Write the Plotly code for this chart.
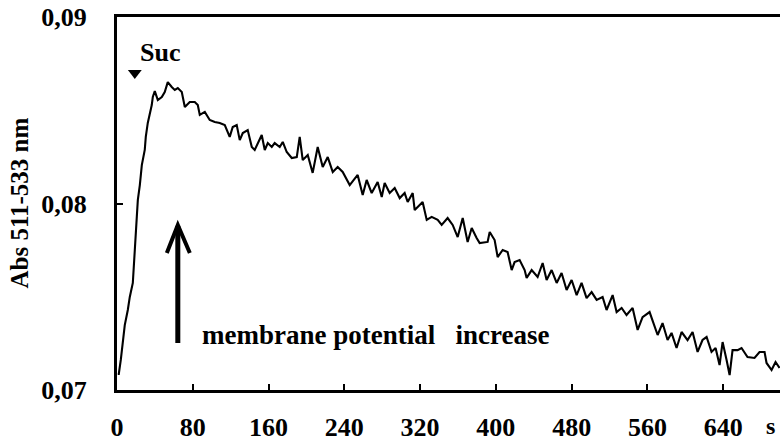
import plotly.graph_objects as go

# ---- data ----
time_s = [0.8, 1.9, 4.0, 6.1, 8.2, 11.4, 13.5, 16.7, 17.7, 18.8, 20.9, 22.0, 24.1, 26.2, 29.3, 30.4,
          32.5, 34.6, 36.7, 37.8, 39.9, 43.1, 47.3, 50.4, 53.6, 57.8, 61.0, 64.2, 68.4, 71.6, 76.8,
          82.1, 85.3, 87.4, 92.7, 97.9, 103.2, 108.5, 113.8, 119.0, 122.2, 126.4, 129.6, 132.8,
          138.0, 142.3, 145.4, 152.8, 156.0, 159.2, 163.4, 166.5, 171.8, 175.0, 179.2, 184.5,
          189.8, 192.9, 196.1, 201.4, 206.6, 211.9, 217.2, 222.5, 227.8, 233.0, 238.3, 245.7,
          254.1, 259.4, 263.6, 268.9, 275.2, 279.5, 282.6, 287.9, 293.2, 298.5, 303.7, 306.9,
          312.2, 314.3, 322.7, 327.0, 332.2, 338.6, 342.8, 349.1, 354.4, 359.7, 365.0, 370.2,
          374.5, 379.7, 382.9, 391.3, 393.5, 398.7, 401.9, 407.2, 412.4, 416.7, 419.8, 425.1,
          430.4, 432.5, 437.8, 444.1, 449.4, 453.6, 458.9, 464.2, 469.4, 474.7, 480.0, 485.3,
          490.5, 495.8, 501.1, 506.4, 512.7, 516.9, 523.3, 527.5, 532.8, 538.0, 544.4, 549.7,
          554.9, 562.3, 565.5, 570.8, 576.0, 581.3, 585.5, 590.8, 596.1, 602.4, 607.7, 613.0,
          618.2, 622.5, 627.7, 632.0, 636.2, 639.4, 643.6, 646.8, 649.9, 655.2, 659.4, 665.7,
          673.1, 678.4, 683.7, 685.8, 691.1, 695.3, 699.5]

abs_511_533 = [0.07086, 0.07086, 0.07161, 0.07268, 0.07348, 0.07429, 0.07499, 0.07574, 0.07643,
               0.07751, 0.07928, 0.08019, 0.08099, 0.08206, 0.08287, 0.08357, 0.08432, 0.08475,
               0.08528, 0.08571, 0.08603, 0.08555, 0.08571, 0.08598, 0.08651, 0.08625, 0.08609,
               0.08619, 0.08598, 0.08517, 0.08544, 0.08544, 0.08528, 0.08475, 0.08491, 0.08448,
               0.08437, 0.08432, 0.08421, 0.08357, 0.08410, 0.08421, 0.08340, 0.08378, 0.08394,
               0.08303, 0.08287, 0.08367, 0.08287, 0.08324, 0.08303, 0.08324, 0.08303, 0.08330,
               0.08276, 0.08244, 0.08249, 0.08357, 0.08233, 0.08260, 0.08164, 0.08303, 0.08196,
               0.08249, 0.08169, 0.08196, 0.08169, 0.08099, 0.08153, 0.08046, 0.08126, 0.08056,
               0.08115, 0.08035, 0.08110, 0.08056, 0.08083, 0.08029, 0.08056, 0.08008, 0.08056,
               0.07965, 0.08008, 0.07912, 0.07928, 0.07912, 0.07885, 0.07922, 0.07885, 0.07820,
               0.07922, 0.07794, 0.07869, 0.07815, 0.07788, 0.07794, 0.07847, 0.07804, 0.07713,
               0.07751, 0.07740, 0.07643, 0.07686, 0.07697, 0.07643, 0.07601, 0.07643, 0.07606,
               0.07681, 0.07590, 0.07643, 0.07574, 0.07627, 0.07536, 0.07590, 0.07509, 0.07574,
               0.07493, 0.07525, 0.07483, 0.07499, 0.07429, 0.07509, 0.07418, 0.07440, 0.07402,
               0.07440, 0.07322, 0.07391, 0.07418, 0.07375, 0.07295, 0.07359, 0.07268, 0.07306,
               0.07225, 0.07311, 0.07268, 0.07311, 0.07204, 0.07268, 0.07284, 0.07204, 0.07225,
               0.07134, 0.07257, 0.07161, 0.07080, 0.07214, 0.07214, 0.07225, 0.07177, 0.07172,
               0.07204, 0.07204, 0.07145, 0.07107, 0.07150, 0.07118]

x_tick_vals = [0, 80, 160, 240, 320, 400, 480, 560, 640]
x_tick_labels = ["0", "80", "160", "240", "320", "400", "480", "560", "640"]
y_tick_vals = [0.07, 0.08, 0.09]
y_tick_labels = ["0,07", "0,08", "0,09"]

suc_time = [18.8]
suc_level = [0.0870]

FONT = "Liberation Serif"
BLACK = "#000000"

fig = go.Figure()
fig.add_trace(go.Scatter(x=time_s, y=abs_511_533, mode="lines",
                         line=dict(color=BLACK, width=2.1), showlegend=False,
                         hoverinfo="skip"))
fig.add_trace(go.Scatter(x=suc_time, y=suc_level, mode="markers",
                         marker=dict(symbol="triangle-down", size=12, color=BLACK),
                         showlegend=False, cliponaxis=False))

# arrow "membrane potential increase"
ax_t, ay0, ay1 = 64.2, 0.07252, 0.07885
fig.add_shape(type="line", xref="x", yref="y", x0=ax_t, x1=ax_t, y0=ay0, y1=ay1 - 0.00005,
              line=dict(color=BLACK, width=5))
fig.add_shape(type="path", xref="x", yref="y",
              path=f"M 52.6,0.07735 L {ax_t},{ay1} L 76.9,0.07735",
              line=dict(color=BLACK, width=4))

fig.add_annotation(x=87.4, y=0.07295, xref="x", yref="y", xanchor="left", yanchor="middle",
                   text="membrane potential\u00a0\u00a0\u00a0increase", showarrow=False,
                   font=dict(family=FONT, size=27, color=BLACK, weight="bold"))
fig.add_annotation(x=45.1, y=0.08812, xref="x", yref="y", xanchor="center", yanchor="middle",
                   text="Suc", showarrow=False,
                   font=dict(family=FONT, size=26, color=BLACK, weight="bold"))
fig.add_annotation(x=-0.1478, y=0.5, xref="paper", yref="paper", xanchor="center",
                   yanchor="middle", textangle=-90, text="Abs 511-533 nm", showarrow=False,
                   font=dict(family=FONT, size=25, color=BLACK, weight="bold"))
fig.add_annotation(x=0.985, y=-0.097, xref="paper", yref="paper", xanchor="center",
                   yanchor="middle", text="s", showarrow=False,
                   font=dict(family=FONT, size=24, color=BLACK, weight="bold"))

fig.update_layout(
    width=780, height=442,
    margin=dict(l=117, r=0, t=17, b=52),
    paper_bgcolor="white", plot_bgcolor="white",
    font=dict(family=FONT, color=BLACK),
    xaxis=dict(range=[0, 700], showgrid=False, zeroline=False, automargin=False,
               showline=True, linecolor=BLACK, linewidth=3, mirror=True,
               ticks="inside", ticklen=6, tickwidth=2, tickcolor=BLACK,
               tickvals=x_tick_vals, ticktext=x_tick_labels, ticklabelstandoff=12,
               tickfont=dict(family=FONT, size=26, color=BLACK, weight="bold")),
    yaxis=dict(range=[0.07, 0.09], showgrid=False, zeroline=False, automargin=False,
               showline=True, linecolor=BLACK, linewidth=3,
               ticks="inside", ticklen=6, tickwidth=2, tickcolor=BLACK,
               tickvals=y_tick_vals, ticktext=y_tick_labels, ticklabelstandoff=22,
               tickfont=dict(family=FONT, size=26, color=BLACK, weight="bold")),
)

fig.write_html("out.html")
